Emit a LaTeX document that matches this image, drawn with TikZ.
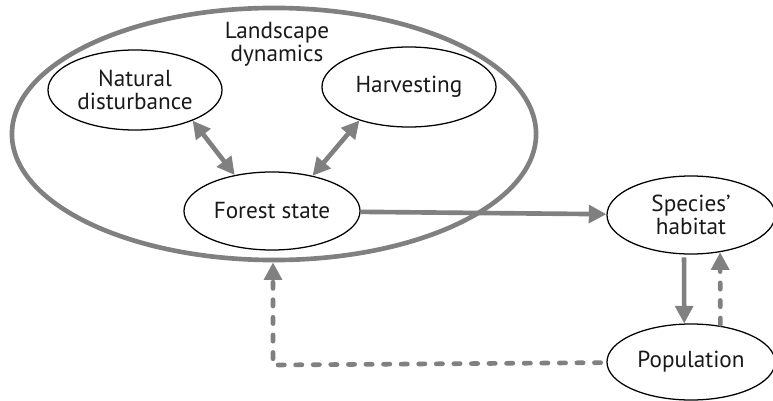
\documentclass[tikz,border=0pt]{standalone}
\usepackage{fontspec}
\setmainfont{PT Sans}
\usetikzlibrary{arrows.meta,shapes}

\begin{document}
\begin{tikzpicture}[x=0.025cm,y=-0.025cm]
\tikzstyle{every node}=[font=\fontsize{16.5}{16.5}\selectfont,text=black!90]
\tikzstyle{blob}=[draw,ellipse,line width=0.9pt,align=center,inner sep=0pt]
\tikzstyle{flow}=[draw=gray,line width=3.3pt,-{Triangle[length=12.5pt,width=12.5pt]}]
\tikzstyle{twoway}=[flow,{Triangle[length=12.5pt,width=12.5pt]}-{Triangle[length=12.5pt,width=12.5pt]}]
\tikzstyle{back}=[flow,dash pattern=on 4.5pt off 8pt,line cap=round]
\useasboundingbox (0,0) rectangle (773,400);

\node at (274,134) [draw=gray,ellipse,line width=3.3pt,minimum width=13.1cm,minimum height=6.3cm](land) {};
\node at (277,44) [align=center](title) {Landscape\\dynamics};

\node at (135,90) [blob,minimum width=4.35cm,minimum height=2cm](nat) {Natural\\disturbance};
\node at (409,87) [blob,minimum width=4.35cm,minimum height=2cm](harv) {Harvesting};
\node at (272,211) [blob,minimum width=4.4cm,minimum height=1.95cm](forest) {Forest state};

\node at (691,215) [blob,minimum width=4.2cm,minimum height=1.95cm](hab) {Species’\\habitat};
\node at (691,362) [blob,minimum width=4.2cm,minimum height=1.9cm](pop) {Population};

\coordinate (corner) at (273,365);

\path [twoway] (nat.-28) -- (forest.136);
\path [twoway] (harv.-146) -- (forest.41);
\path [flow] (forest) -- (hab);
\path [flow,shorten <=2pt] (hab.-100) -- (pop.100);
\path [back,shorten <=1pt] (pop.51) -- (hab.-52);
\path [back,shorten <=4pt] (pop) -- (corner) -- (land.south -| corner);

\end{tikzpicture}
\end{document}
